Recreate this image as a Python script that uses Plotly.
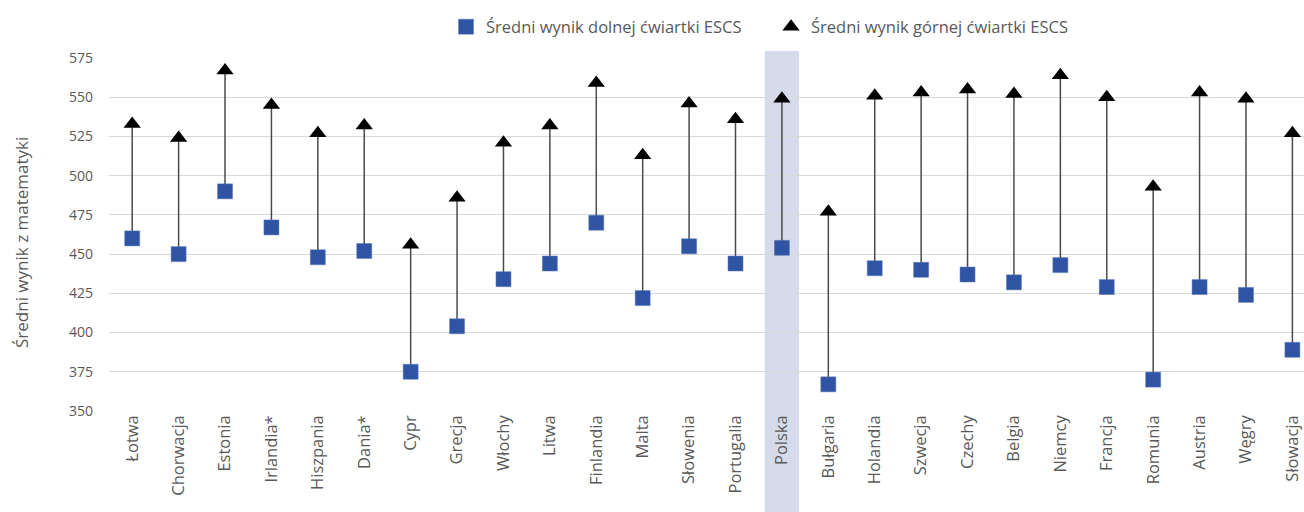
import plotly.graph_objects as go

countries = ["Łotwa", "Chorwacja", "Estonia", "Irlandia*", "Hiszpania", "Dania*", "Cypr", "Grecja",
             "Włochy", "Litwa", "Finlandia", "Malta", "Słowenia", "Portugalia", "Polska", "Bułgaria",
             "Holandia", "Szwecja", "Czechy", "Belgia", "Niemcy", "Francja", "Romunia", "Austria",
             "Węgry", "Słowacja"]
low_q = [460, 450, 490, 467, 448, 452, 375, 404,
         434, 444, 470, 422, 455, 444, 454, 367,
         441, 440, 437, 432, 443, 429, 370, 429,
         424, 389]
high_q = [533, 524, 567, 545, 527, 532, 456, 486,
          521, 532, 559, 513, 546, 536, 549, 477,
          551, 553, 555, 552, 564, 550, 493, 553,
          549, 527]
highlight = "Polska"
y_ticks = [350, 375, 400, 425, 450, 475, 500, 525, 550, 575]
y_title = "Średni wynik z matematyki"

FONT = "Open Sans, Noto Sans, sans-serif"
GREY = "#595959"

# connector lines (high-low lines)
lx, ly = [], []
for c, lo, hi in zip(countries, low_q, high_q):
    lx += [c, c, None]
    ly += [lo, hi, None]

fig = go.Figure()
fig.add_trace(go.Scatter(x=lx, y=ly, mode="lines", line=dict(color="#4a4a4a", width=1.5),
                         showlegend=False, hoverinfo="skip"))
fig.add_trace(go.Scatter(x=countries, y=low_q, mode="markers", name="Średni wynik dolnej ćwiartki ESCS",
                         marker=dict(symbol="square", size=15, color="#2f54a3",
                                     line=dict(width=0.5, color="#5a78b8"))))
fig.add_trace(go.Scatter(x=countries, y=high_q, mode="markers", name="Średni wynik górnej ćwiartki ESCS",
                         marker=dict(symbol="triangle-up", size=15, color="#000000")))

hi_idx = countries.index(highlight)
fig.add_shape(type="rect", xref="x", yref="paper", x0=hi_idx - 0.37, x1=hi_idx + 0.37,
              y0=-0.29, y1=1.02, fillcolor="#d5dbeb", line=dict(width=0), layer="below")

fig.add_annotation(text=y_title, xref="paper", yref="paper", x=-0.0728, y=0.476,
                   xanchor="center", yanchor="middle", textangle=-90, showarrow=False,
                   font=dict(size=17, color=GREY, family=FONT))

fig.update_layout(
    width=1304, height=512,
    margin=dict(l=109, r=0, t=58, b=101),
    paper_bgcolor="white", plot_bgcolor="white",
    font=dict(family=FONT, color=GREY),
    legend=dict(orientation="h", x=0.554, xanchor="center", y=1.088, yanchor="middle",
                font=dict(size=16.5, color=GREY), itemwidth=30, traceorder="normal",
                entrywidth=280, entrywidthmode="pixels"),
    showlegend=True,
)
fig.update_xaxes(type="category", categoryorder="array", categoryarray=countries,
                 range=[-0.5, 25.25], tickangle=-90, tickfont=dict(size=16.5, color=GREY),
                 showgrid=False, showline=False, ticks="", zeroline=False, automargin=False)
fig.update_yaxes(range=[350, 575], tickvals=y_ticks, tickfont=dict(size=14, color=GREY),
                 showgrid=True, gridcolor="#d9d9d9", gridwidth=1, zeroline=False,
                 ticks="", ticklabelstandoff=15, automargin=False)

fig.write_html("out.html", config={"displayModeBar": False},
               post_script="document.body.style.margin='0';document.body.style.padding='0';")
